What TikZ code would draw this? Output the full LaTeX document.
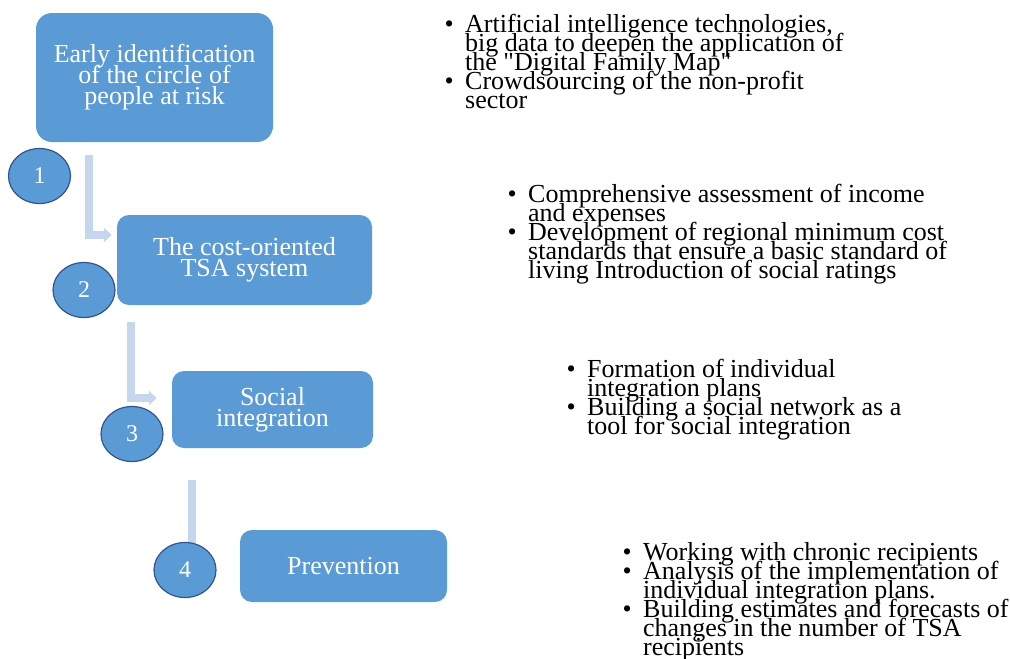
\documentclass[tikz,border=0pt]{standalone}
\usepackage{fontspec}
\setmainfont{Liberation Serif}[Ligatures=TeXOff]
\usetikzlibrary{arrows.meta,calc,shapes.geometric}

\definecolor{stepfill}{RGB}{91,155,213}
\definecolor{ringline}{RGB}{49,84,140}
\definecolor{flowtint}{RGB}{198,214,236}

% type sizes, with lines allowed to sit closer than their glyphs
\newcommand\stepfont{\fontsize{26}{21}\selectfont\lineskiplimit=-40pt\relax}
\newcommand\notefont{\fontsize{26}{19}\selectfont\lineskiplimit=-40pt\relax}
% bullet hung into the left margin of a note block
\newcommand\bulletmark{\leavevmode\llap{•\hspace{11.5pt}}}
% a block of bulleted notes; its reference point is the first baseline
\newcommand\notelist[1]{\parbox[t]{520pt}{\notefont\raggedright #1}}

\tikzset{
  stepbox/.style={rectangle, rounded corners=12pt, fill=stepfill, draw=none,
    text=white, align=center, inner sep=0pt, font=\stepfont},
  badge/.style={ellipse, fill=stepfill, draw=ringline, line width=1.2pt,
    text=white, inner sep=0pt, minimum width=62pt, minimum height=55pt,
    font=\fontsize{24}{24}\selectfont},
  flow/.style={draw=flowtint, line width=8pt, line join=miter},
  flowtip/.style={-{Triangle[width=14pt,length=8pt]}},
  notes/.style={anchor=base west, inner sep=0pt, text=black}
}

\begin{document}
\begin{tikzpicture}[x=1pt,y=-1pt]
\useasboundingbox (0,0) rectangle (1010,659);
\fill[white] (0,0) rectangle (1010,659);

% the four steps
\node[stepbox, rounded corners=16pt, minimum width=237pt, minimum height=129pt]
  (box1) at (154.5,77.5) {Early identification\\of the circle of\\people at risk};
\node[stepbox, minimum width=255pt, minimum height=90pt]
  (box2) at (244.5,260) {The cost-oriented\\TSA system};
\node[stepbox, minimum width=201pt, minimum height=77pt]
  (box3) at (272.5,409.5) {Social\\integration};
\node[stepbox, minimum width=207pt, minimum height=72pt]
  (box4) at (343.5,566) {Prevention};

% bent connectors between the steps
\coordinate (f1s) at ($(box1.south west)+(53,13)$);
\coordinate (f1e) at ($(box2.west)+(-5,-25)$);
\draw[flow,flowtip] (f1s) |- (f1e);

\coordinate (f2s) at ($(box2.south west)+(14,17)$);
\coordinate (f2e) at ($(box3.west)+(-15,-11.5)$);
\draw[flow,flowtip] (f2s) |- (f2e);

\coordinate (f3s) at ($(box3.south west)+(20.5,32)$);
\draw[flow] (f3s) -- (f3s |- box4.west);

% numbered badges
\node[badge] (n1) at (39.5,176) {1};
\node[badge] (n2) at (84,290) {2};
\node[badge] (n3) at (132,434) {3};
\node[badge] (n4) at (185,570) {4};

% notes for each step
\node[notes] (t1) at (465,32) {\notelist{%
  \bulletmark Artificial intelligence technologies,\\
  big data to deepen the application of\\
  the "Digital Family Map"\par
  \bulletmark Crowdsourcing of the non-profit\\
  sector}};

\node[notes] (t2) at (528,202) {\notelist{%
  \bulletmark Comprehensive assessment of income\\
  and expenses\par
  \bulletmark Development of regional minimum cost\\
  standards that ensure a basic standard of\\
  living Introduction of social ratings}};

\node[notes] (t3) at (587,377) {\notelist{%
  \bulletmark Formation of individual\\
  integration plans\par
  \bulletmark Building a social network as a\\
  tool for social integration}};

\node[notes] (t4) at (643,560) {\notelist{%
  \bulletmark Working with chronic recipients\par
  \bulletmark Analysis of the implementation of\\
  individual integration plans.\par
  \bulletmark Building estimates and forecasts of\\
  changes in the number of TSA\\
  recipients}};
\end{tikzpicture}
\end{document}
